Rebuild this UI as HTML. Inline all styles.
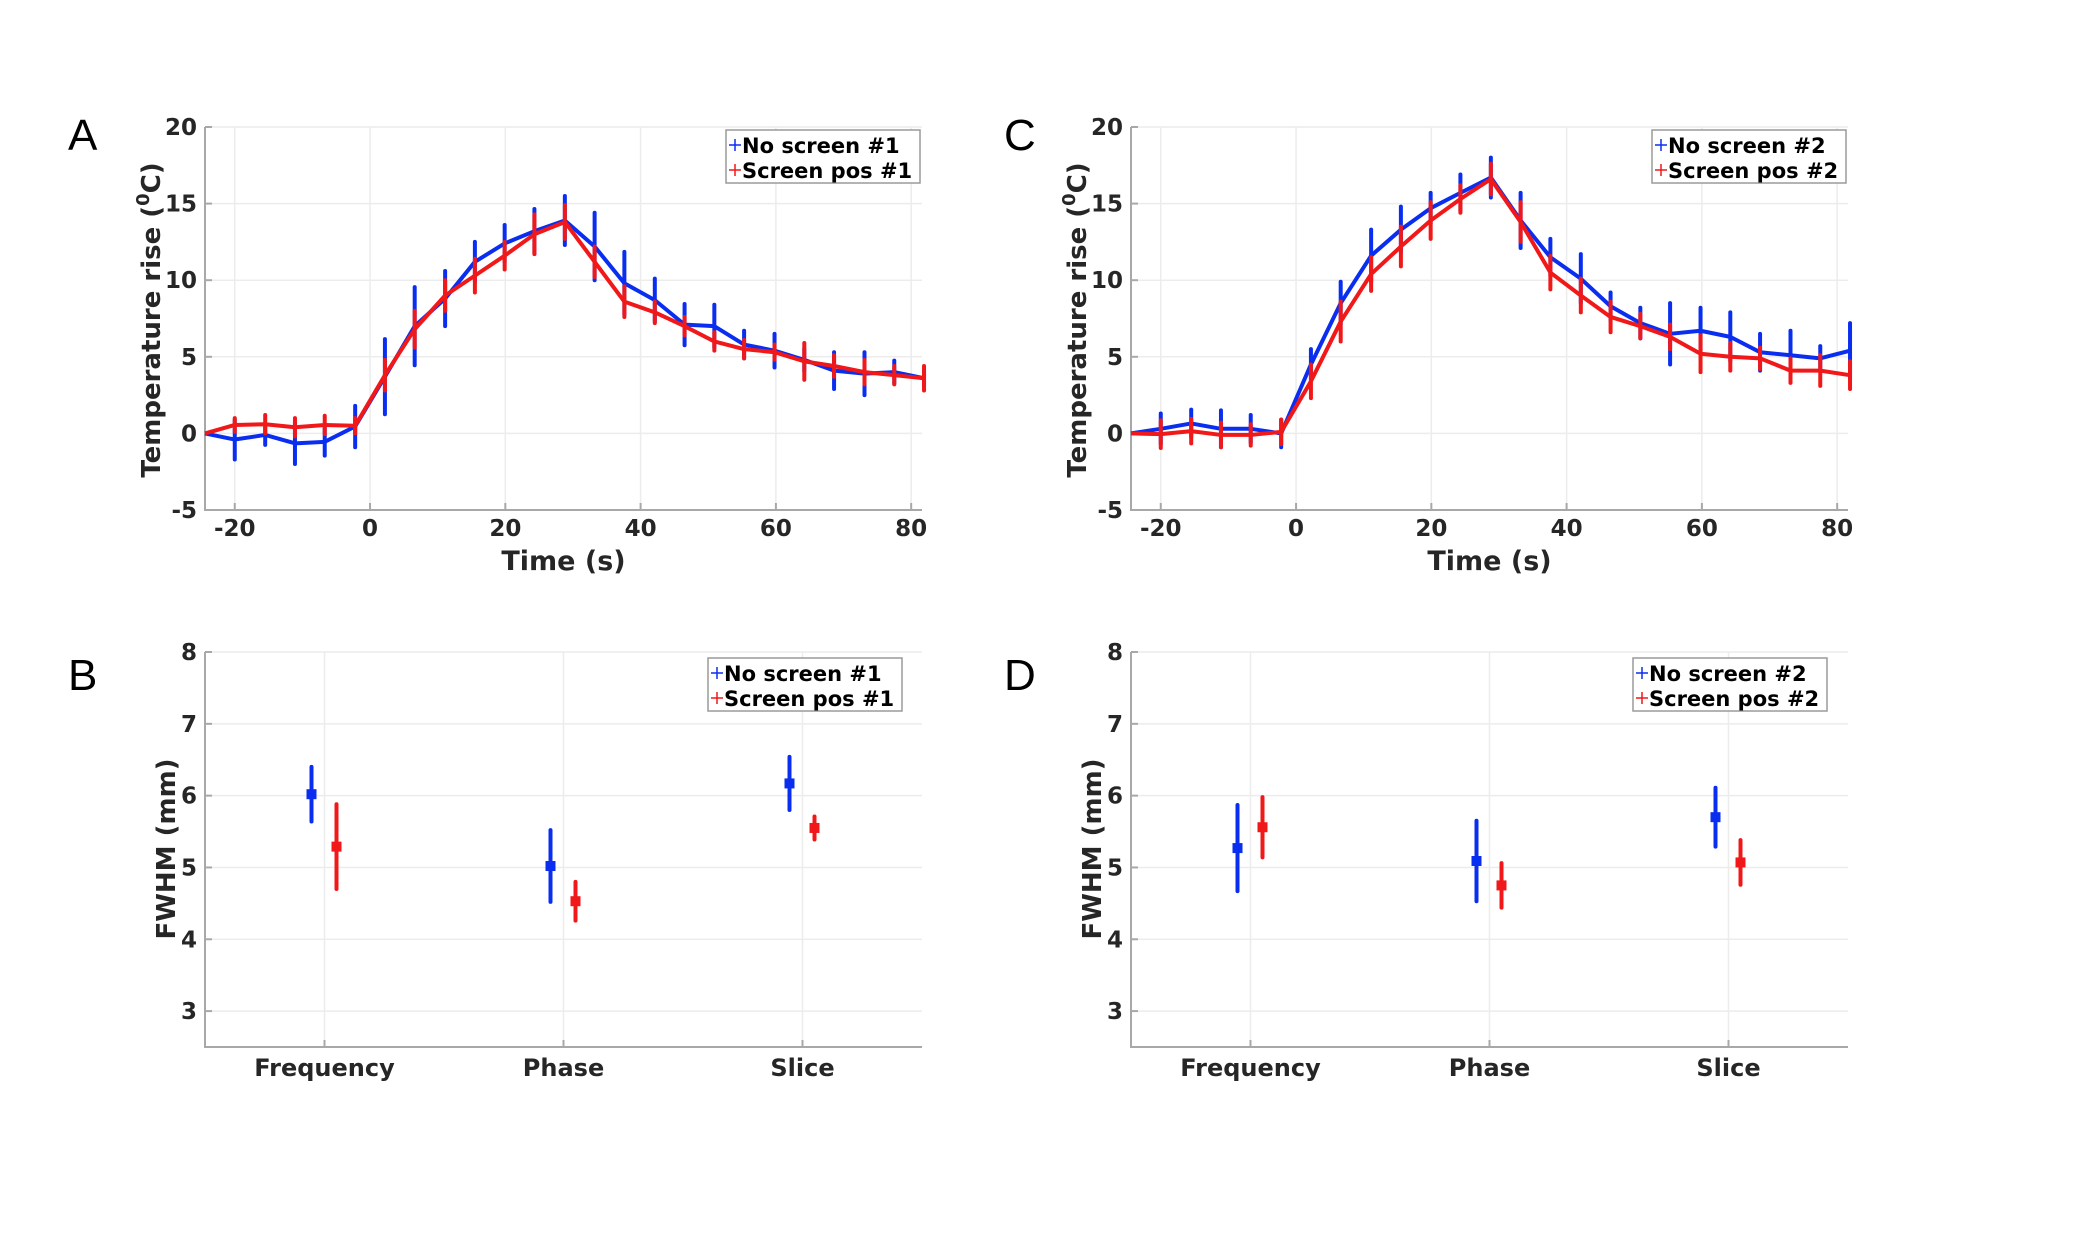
<!DOCTYPE html>
<html><head><meta charset="utf-8">
<style>
html,body{margin:0;padding:0;background:#fff;}
svg{display:block;font-family:"DejaVu Sans","Liberation Sans",sans-serif;}
</style></head>
<body>
<svg id="fig" width="2082" height="1240" viewBox="0 0 2082 1240" xmlns="http://www.w3.org/2000/svg"></svg>
<script>
// ---- data ----
const times = [-24.4,-20,-15.5,-11.1,-6.7,-2.2,2.2,6.6,11.1,15.5,19.9,24.3,28.8,33.2,37.6,42.1,46.5,50.9,55.3,59.8,64.2,68.6,73.1,77.5,81.9];
const blueA = [0,-0.4,-0.1,-0.65,-0.55,0.45,3.7,7.0,8.8,11.2,12.4,13.2,13.9,12.2,9.8,8.7,7.1,7.0,5.8,5.4,4.8,4.1,3.9,4.0,3.6];
const blueAErr = [0,1.3,0.65,1.35,0.9,1.35,2.45,2.55,1.8,1.3,1.2,1.45,1.6,2.2,2.05,1.4,1.35,1.4,0.9,1.1,0.75,1.2,1.4,0.75,0.5];
const redA = [0,0.55,0.6,0.4,0.55,0.5,3.8,6.8,9.0,10.3,11.6,13.0,13.8,11.2,8.6,7.9,7.0,6.0,5.5,5.3,4.7,4.4,4.0,3.8,3.6];
const redAErr = [0,0.45,0.6,0.6,0.6,0.5,1.0,1.2,1.0,1.1,0.9,1.3,1.1,1.0,1.0,0.7,0.6,0.6,0.6,0.5,1.2,0.7,0.8,0.6,0.8];
const blueC = [0,0.3,0.65,0.3,0.3,0,4.5,8.5,11.6,13.3,14.7,15.7,16.7,13.9,11.5,10.1,8.3,7.2,6.5,6.7,6.3,5.3,5.1,4.9,5.4];
const blueCErr = [0,1.0,0.9,1.2,0.9,0.9,1.0,1.4,1.7,1.5,1.0,1.2,1.3,1.8,1.2,1.6,0.9,1.0,2.0,1.5,1.6,1.2,1.6,0.8,1.8];
const redC = [0,-0.05,0.15,-0.1,-0.1,0.1,3.4,7.3,10.4,12.2,13.9,15.3,16.6,13.8,10.5,9.0,7.6,7.0,6.3,5.2,5.0,4.9,4.1,4.1,3.8];
const redCErr = [0,0.9,0.8,0.8,0.7,0.8,1.1,1.3,1.1,1.3,1.2,0.9,1.0,1.3,1.1,1.1,1.0,0.8,0.8,1.2,0.9,0.7,0.8,1.0,0.9];
const xTicks = [-20,0,20,40,60,80];
const yTicksT = [-5,0,5,10,15,20];
const categories = ["Frequency","Phase","Slice"];
const blueB = [6.02,5.02,6.17];
const blueBErr = [0.38,0.5,0.37];
const redB = [5.29,4.53,5.55];
const redBErr = [0.59,0.27,0.16];
const blueD = [5.27,5.09,5.70];
const blueDErr = [0.6,0.56,0.41];
const redD = [5.56,4.75,5.07];
const redDErr = [0.42,0.31,0.31];
const yTicksF = [3,4,5,6,7,8];

const NS="http://www.w3.org/2000/svg";
const svg=document.getElementById('fig');
const BLUE="#0a2ef0", RED="#f01818";
function mk(tag,attrs,parent,text){const e=document.createElementNS(NS,tag);for(const k in attrs)e.setAttribute(k,attrs[k]);if(text!==undefined)e.textContent=text;(parent||svg).appendChild(e);return e;}

function panel(o){
  const g=mk('g',{});
  
  
  const L=o.left,R=o.right,T=o.top,B=o.bottom;
  const sx=v=>L+(v-o.xmin)/(o.xmax-o.xmin)*(R-L);
  const sy=v=>B-(v-o.ymin)/(o.ymax-o.ymin)*(B-T);
  o.yt.forEach(v=>{const l=mk('line',{x1:L,x2:R,y1:sy(v),y2:sy(v),stroke:'#ececec','stroke-width':1.5},g);
    });
  o.xt.forEach(v=>{const l=mk('line',{x1:sx(v),x2:sx(v),y1:T,y2:B,stroke:'#ececec','stroke-width':1.5},g);
    });
  const ax=mk('path',{d:`M${L},${T}V${B}H${R}`,fill:'none',stroke:'#a8a8a8','stroke-width':2},g);
  
  o.yt.forEach(v=>{mk('line',{x1:L,x2:L+7,y1:sy(v),y2:sy(v),stroke:'#a8a8a8','stroke-width':2},g);
    const t=mk('text',{x:L-8,y:sy(v)+8,'text-anchor':'end','font-size':23,'font-weight':'bold',fill:'#262626'},g,String(v));
    });
  o.xt.forEach((v,i)=>{mk('line',{x1:sx(v),x2:sx(v),y1:B,y2:B-7,stroke:'#a8a8a8','stroke-width':2},g);
    const t=mk('text',{x:sx(v),y:B+(o.cat?29:26),'text-anchor':'middle','font-size':o.cat?24:23,'font-weight':'bold',fill:'#262626'},g,o.xl?o.xl[i]:String(v));
    });
  o.series.forEach(s=>{
    const sg=mk('g',{},g);
    
    const xs=s.x.map(v=>sx(v)+(s.dx||0));
    if(s.line){
      const p=mk('polyline',{points:s.y.map((v,i)=>xs[i]+','+sy(v)).join(' '),fill:'none',stroke:s.color,'stroke-width':4,'stroke-linejoin':'round'},sg);
      
    }
    s.y.forEach((v,i)=>{
      if(s.e[i]>0){const b=mk('line',{x1:xs[i],x2:xs[i],y1:sy(v-s.e[i]),y2:sy(v+s.e[i]),stroke:s.color,'stroke-width':4,'stroke-linecap':'round'},sg);
        }
      if(s.marker){const m=mk('rect',{x:xs[i]-5,y:sy(v)-5,width:10,height:10,fill:s.color},sg);
        }
    });
  });
  const xl=o.xlabel;
  if(xl){const t=mk('text',{x:(L+R)/2,y:B+60,'text-anchor':'middle','font-size':27,'font-weight':'bold',fill:'#262626'},g,xl);
    }
  const yl=mk('text',{transform:`translate(${o.ylx},${o.yly}) rotate(-90)`,'text-anchor':'middle','font-size':26,'font-weight':'bold',fill:'#262626'},g);
  
  if(o.temp){
    mk('tspan',{},yl,'Temperature rise (');
    mk('tspan',{'font-size':18,dy:-11},yl,'0');
    mk('tspan',{dy:11},yl,'C)');
  } else yl.textContent='FWHM (mm)';
  const pl=mk('text',{x:o.px,y:o.py,'font-size':44,fill:'#000','font-family':'"Liberation Sans",sans-serif'},g,o.letter);
  
  const lg=mk('g',{},g);
  
  mk('rect',{x:o.lx,y:o.ly,width:194,height:53,fill:'#fff',stroke:'#9a9a9a','stroke-width':1.5},lg);
  [[BLUE,o.leg[0],0],[RED,o.leg[1],1]].forEach(([c,txt,i])=>{
    const e=mk('g',{},lg);
    
    const cy=o.ly+15+i*25;
    mk('line',{x1:o.lx+3,x2:o.lx+15,y1:cy,y2:cy,stroke:c,'stroke-width':1.5},e);
    mk('line',{x1:o.lx+9,x2:o.lx+9,y1:cy-6,y2:cy+6,stroke:c,'stroke-width':1.5},e);
    mk('text',{x:o.lx+16,y:cy+8,'font-size':21,'font-weight':'bold',fill:'#000'},e,txt);
  });
}

const catX=[1,2,3];
panel({name:'panel-a-temperature',left:205,right:922,top:127,bottom:510,xmin:-24.4,xmax:81.6,ymin:-5,ymax:20,
  xt:xTicks,yt:yTicksT,xlabel:'Time (s)',temp:true,ylx:160,yly:320,letter:'A',px:68,py:150,lx:726,ly:130,
  leg:['No screen #1','Screen pos #1'],
  series:[{name:'series-no-screen-1',x:times,y:blueA,e:blueAErr,color:BLUE,line:true},
          {name:'series-screen-pos-1',x:times,y:redA,e:redAErr,color:RED,line:true}]});
panel({name:'panel-c-temperature',left:1131,right:1848,top:127,bottom:510,xmin:-24.4,xmax:81.6,ymin:-5,ymax:20,
  xt:xTicks,yt:yTicksT,xlabel:'Time (s)',temp:true,ylx:1086,yly:320,letter:'C',px:1004,py:150,lx:1652,ly:130,
  leg:['No screen #2','Screen pos #2'],
  series:[{name:'series-no-screen-2',x:times,y:blueC,e:blueCErr,color:BLUE,line:true},
          {name:'series-screen-pos-2',x:times,y:redC,e:redCErr,color:RED,line:true}]});
panel({name:'panel-b-fwhm',left:205,right:922,top:652,bottom:1047,xmin:0.5,xmax:3.5,ymin:2.5,ymax:8,cat:true,
  xt:catX,xl:categories,yt:yTicksF,temp:false,ylx:175,yly:849,letter:'B',px:68,py:690,lx:708,ly:658,
  leg:['No screen #1','Screen pos #1'],
  series:[{name:'series-no-screen-1',x:catX,y:blueB,e:blueBErr,color:BLUE,marker:true,dx:-13},
          {name:'series-screen-pos-1',x:catX,y:redB,e:redBErr,color:RED,marker:true,dx:12}]});
panel({name:'panel-d-fwhm',left:1131,right:1848,top:652,bottom:1047,xmin:0.5,xmax:3.5,ymin:2.5,ymax:8,cat:true,
  xt:catX,xl:categories,yt:yTicksF,temp:false,ylx:1101,yly:849,letter:'D',px:1004,py:690,lx:1633,ly:658,
  leg:['No screen #2','Screen pos #2'],
  series:[{name:'series-no-screen-2',x:catX,y:blueD,e:blueDErr,color:BLUE,marker:true,dx:-13},
          {name:'series-screen-pos-2',x:catX,y:redD,e:redDErr,color:RED,marker:true,dx:12}]});
</script>
</body></html>
